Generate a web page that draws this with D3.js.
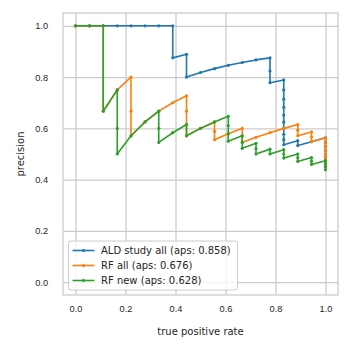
<!DOCTYPE html>
<html>
<head>
<meta charset="utf-8">
<script src="https://cdn.jsdelivr.net/npm/d3@7"></script>
<style>
  body { margin: 0; background: #fff; }
  svg { font-family: "DejaVu Sans", sans-serif; }
</style>
</head>
<body>
<div id="chart"></div>
<script>
// ---- data (recall = true positive rate, precision)
const xTicks = [0, 0.2, 0.4, 0.6, 0.8, 1.0]
const yTicks = [0, 0.2, 0.4, 0.6, 0.8, 1.0]
const seriesNames = ["ALD study all (aps: 0.858)", "RF all (aps: 0.676)", "RF new (aps: 0.628)"]

const aldRecall = [0, 0.056, 0.111, 0.167, 0.222, 0.278, 0.333, 0.389, 0.389, 0.444, 0.444, 0.5, 0.556, 0.611, 0.667, 0.722, 0.778, 0.778, 0.778, 0.833, 0.833, 0.833, 0.833, 0.833, 0.833, 0.833, 0.833, 0.833, 0.833, 0.889, 0.889, 0.944, 1, 1, 1, 1, 1, 1, 1, 1, 1]
const aldPrecision = [1, 1, 1, 1, 1, 1, 1, 1, 0.875, 0.889, 0.8, 0.818, 0.833, 0.846, 0.857, 0.867, 0.875, 0.824, 0.778, 0.789, 0.75, 0.714, 0.682, 0.652, 0.625, 0.6, 0.577, 0.556, 0.536, 0.552, 0.533, 0.548, 0.563, 0.545, 0.529, 0.514, 0.5, 0.486, 0.474, 0.462, 0.45]

const rfAllRecall = [0, 0.056, 0.111, 0.111, 0.167, 0.222, 0.222, 0.222, 0.278, 0.333, 0.389, 0.444, 0.444, 0.444, 0.444, 0.5, 0.556, 0.556, 0.556, 0.611, 0.667, 0.667, 0.667, 0.722, 0.778, 0.833, 0.889, 0.889, 0.889, 0.944, 0.944, 0.944, 1, 1, 1, 1, 1, 1, 1, 1, 1]
const rfAllPrecision = [1, 1, 1, 0.667, 0.75, 0.8, 0.667, 0.571, 0.625, 0.667, 0.7, 0.727, 0.667, 0.615, 0.571, 0.6, 0.625, 0.588, 0.556, 0.579, 0.6, 0.571, 0.545, 0.565, 0.583, 0.6, 0.615, 0.593, 0.571, 0.586, 0.567, 0.548, 0.563, 0.545, 0.529, 0.514, 0.5, 0.486, 0.474, 0.462, 0.45]

const rfNewRecall = [0, 0.056, 0.111, 0.111, 0.167, 0.167, 0.167, 0.222, 0.278, 0.333, 0.333, 0.333, 0.389, 0.444, 0.444, 0.5, 0.556, 0.611, 0.611, 0.611, 0.611, 0.667, 0.667, 0.667, 0.722, 0.722, 0.722, 0.778, 0.778, 0.833, 0.833, 0.833, 0.889, 0.889, 0.889, 0.944, 0.944, 0.944, 1, 1, 1, 1]
const rfNewPrecision = [1, 1, 1, 0.667, 0.75, 0.6, 0.5, 0.571, 0.625, 0.667, 0.6, 0.545, 0.583, 0.615, 0.571, 0.6, 0.625, 0.647, 0.611, 0.579, 0.55, 0.571, 0.545, 0.522, 0.542, 0.52, 0.5, 0.519, 0.5, 0.517, 0.5, 0.484, 0.5, 0.485, 0.471, 0.486, 0.472, 0.459, 0.474, 0.462, 0.45, 0.439]

const colors = ["#1f77b4", "#ff7f0e", "#2ca02c"]

//---------------------- dimensions
const dimensions = {
    width: 352,
    height: 352,
    margin: { top: 13, right: 14, bottom: 57, left: 63 }
}
dimensions.boundedWidth = dimensions.width - dimensions.margin.left - dimensions.margin.right
dimensions.boundedHeight = dimensions.height - dimensions.margin.top - dimensions.margin.bottom

//---------------------- wrapper + bounds
const wrapper = d3.select("#chart")
    .append("svg")
    .attr("width", dimensions.width)
    .attr("height", dimensions.height)

const bounds = wrapper.append("g")
    .attr("transform", `translate(${dimensions.margin.left},${dimensions.margin.top})`)

//---------------------- build series
const series = [
    { name: seriesNames[0], x: aldRecall, y: aldPrecision },
    { name: seriesNames[1], x: rfAllRecall, y: rfAllPrecision },
    { name: seriesNames[2], x: rfNewRecall, y: rfNewPrecision }
].map((s, i) => ({
    name: s.name,
    color: colors[i],
    points: s.x.map((x, j) => ({ recall: x, precision: s.y[j] }))
}))

const recallAccessor = d => d.recall
const precisionAccessor = d => d.precision

//---------------------- scales
const xScale = d3.scaleLinear()
    .domain([-0.05, 1.05])
    .range([0, dimensions.boundedWidth])

const yScale = d3.scaleLinear()
    .domain([-0.05, 1.05])
    .range([dimensions.boundedHeight, 0])

//---------------------- axes (ticks double as grid lines)
const textColor = "#262626"
const gridColor = "#cccccc"

const xAxis = bounds.append("g")
    .attr("transform", `translate(0,${dimensions.boundedHeight})`)
    .call(d3.axisBottom(xScale)
        .tickValues(xTicks)
        .tickFormat(d3.format(".1f"))
        .tickSizeInner(-dimensions.boundedHeight)
        .tickSizeOuter(0)
        .tickPadding(10))

const yAxis = bounds.append("g")
    .call(d3.axisLeft(yScale)
        .tickValues(yTicks)
        .tickFormat(d3.format(".1f"))
        .tickSizeInner(-dimensions.boundedWidth)
        .tickSizeOuter(0)
        .tickPadding(15))

;[xAxis, yAxis].forEach(ax => {
    ax.select(".domain").remove()
    ax.selectAll(".tick line")
        .attr("stroke", gridColor)
        .attr("stroke-width", 1.3)
    ax.selectAll(".tick text")
        .attr("fill", textColor)
        .style("font-size", "9.2px")
})

// frame
bounds.append("rect")
    .attr("width", dimensions.boundedWidth)
    .attr("height", dimensions.boundedHeight)
    .attr("fill", "none")
    .attr("stroke", gridColor)
    .attr("stroke-width", 1.3)

// axis labels
bounds.append("text")
    .attr("x", dimensions.boundedWidth / 2)
    .attr("y", dimensions.boundedHeight + 40)
    .attr("text-anchor", "middle")
    .attr("fill", textColor)
    .style("font-size", "10px")
    .text("true positive rate")

bounds.append("text")
    .attr("transform", `translate(${-39},${dimensions.boundedHeight / 2}) rotate(-90)`)
    .attr("text-anchor", "middle")
    .attr("fill", textColor)
    .style("font-size", "10px")
    .text("precision")

//---------------------- lines + markers
const lineGenerator = d3.line()
    .x(d => xScale(recallAccessor(d)))
    .y(d => yScale(precisionAccessor(d)))

const seriesGroups = bounds.selectAll(".series")
    .data(series)
    .join("g")
    .attr("class", "series")

seriesGroups.append("path")
    .attr("d", d => lineGenerator(d.points))
    .attr("fill", "none")
    .attr("stroke", d => d.color)
    .attr("stroke-width", 1.6)
    .attr("stroke-linejoin", "round")

seriesGroups.selectAll("circle")
    .data(d => d.points.map(p => ({ ...p, color: d.color })))
    .join("circle")
    .attr("cx", d => xScale(recallAccessor(d)))
    .attr("cy", d => yScale(precisionAccessor(d)))
    .attr("r", 1.6)
    .attr("fill", d => d.color)

//---------------------- legend
const legend = bounds.append("g")
    .attr("transform", `translate(5.5,${dimensions.boundedHeight - 54})`)

legend.append("rect")
    .attr("width", 169)
    .attr("height", 49)
    .attr("rx", 2.5)
    .attr("fill", "#ffffff")
    .attr("fill-opacity", 0.8)
    .attr("stroke", gridColor)
    .attr("stroke-width", 1)

const legendItems = legend.selectAll(".item")
    .data(series)
    .join("g")
    .attr("class", "item")
    .attr("transform", (d, i) => `translate(0,${9.5 + i * 15})`)

legendItems.append("line")
    .attr("x1", 4)
    .attr("x2", 26)
    .attr("stroke", d => d.color)
    .attr("stroke-width", 1.6)

legendItems.append("circle")
    .attr("cx", 15)
    .attr("r", 1.6)
    .attr("fill", d => d.color)

legendItems.append("text")
    .attr("x", 32.5)
    .attr("dy", "0.35em")
    .attr("fill", textColor)
    .style("font-size", "10px")
    .text(d => d.name)
</script>
</body>
</html>
